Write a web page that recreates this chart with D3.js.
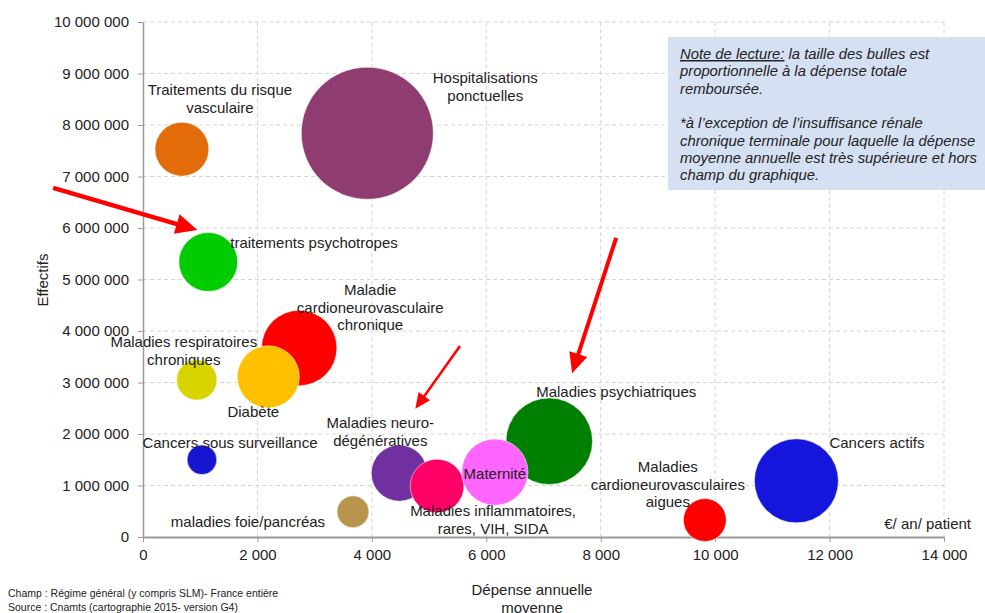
<!DOCTYPE html>
<html>
  <head>
    <meta charset="utf-8">
    <script src="https://d3js.org/d3.v7.min.js"></script>
    <style>
    body {
      margin: 0;
      background: #fff;
    }

    svg text {
      font-family: "Liberation Sans", Arial, sans-serif;
      fill: #222;
    }

    .grid line {
      stroke: #d6d6d6;
      stroke-dasharray: 4, 3;
    }

    .axis path, .axis line {
      stroke: #9a9a9a;
    }

    .axis text {
      font-size: 15px;
    }
  </style>
  </head>
  <body>
    <div id="chart"></div>
    <script>
    // bulles : pathologie, dépense annuelle moyenne (€/an/patient), effectifs
    var categories = [
      "Traitements du risque vasculaire",
      "Hospitalisations ponctuelles",
      "traitements psychotropes",
      "Maladie cardioneurovasculaire chronique",
      "Diabète",
      "Maladies respiratoires chroniques",
      "Cancers sous surveillance",
      "maladies foie/pancréas",
      "Maladies neuro-dégénératives",
      "Maladies inflammatoires, rares, VIH, SIDA",
      "Maladies psychiatriques",
      "Maternité",
      "Maladies cardioneurovasculaires aigues",
      "Cancers actifs"
    ];
    var depenseMoyenne = [680, 3920, 1140, 2730, 2190, 940, 1030, 3670, 4480, 5140, 7100, 6150, 9820, 11420];
    var effectifs = [7530000, 7840000, 5340000, 3670000, 3110000, 3050000, 1500000, 490000, 1240000, 990000, 1860000, 1260000, 330000, 1090000];
    var colors = ["#e36c0a", "#8f3d70", "#00cc00", "#ff0000", "#ffc000", "#d9d400", "#1616d0",
      "#b8954c", "#7030a0", "#ff0066", "#008000", "#ff66ff", "#ff0000", "#1515dc"];

    // texte des étiquettes (lignes)
    var labelLines = [
      ["Traitements du risque", "vasculaire"],
      ["Hospitalisations", "ponctuelles"],
      ["traitements psychotropes"],
      ["Maladie", "cardioneurovasculaire", "chronique"],
      ["Diabète"],
      ["Maladies respiratoires", "chroniques"],
      ["Cancers sous surveillance"],
      ["maladies foie/pancréas"],
      ["Maladies neuro-", "dégénératives"],
      ["Maladies inflammatoires,", "rares, VIH, SIDA"],
      ["Maladies psychiatriques"],
      ["Maternité"],
      ["Maladies", "cardioneurovasculaires", "aigues"],
      ["Cancers actifs"]
    ];
    // placement des étiquettes par rapport au centre de la bulle (px)
    var labelLayout = [
      {anchor: "middle", dx: 38, dy: -59},
      {anchor: "middle", dx: 118, dy: -55},
      {anchor: "start", dx: 22, dy: -19},
      {anchor: "middle", dx: 71, dy: -58},
      {anchor: "middle", dx: -15, dy: 35},
      {anchor: "middle", dx: -13, dy: -38},
      {anchor: "middle", dx: 28, dy: -17},
      {anchor: "middle", dx: -105, dy: 10},
      {anchor: "middle", dx: -19, dy: -50},
      {anchor: "middle", dx: 56, dy: 25},
      {anchor: "middle", dx: 67, dy: -49},
      {anchor: "middle", dx: 0, dy: 2},
      {anchor: "middle", dx: -37, dy: -53},
      {anchor: "start", dx: 33, dy: -38}
    ];

    var xTicks = [0, 2000, 4000, 6000, 8000, 10000, 12000, 14000];
    var yTicks = [0, 1000000, 2000000, 3000000, 4000000, 5000000, 6000000, 7000000, 8000000, 9000000, 10000000];

    // flèches rouges (coordonnées dans l'unité des axes)
    var arrowFrom = [[-1570, 6780000], [8270, 5810000], [5540, 3710000]];
    var arrowTo = [[950, 5960000], [7500, 3180000], [4760, 2490000]];
    var arrowWidth = [4.5, 4, 2.5];

    var noteLines = [
      "la taille des bulles est",
      "proportionnelle à la dépense totale",
      "remboursée.",
      "",
      "*à l’exception de l’insuffisance rénale",
      "chronique terminale pour laquelle la dépense",
      "moyenne annuelle est très supérieure et hors",
      "champ du graphique."
    ];

    var width = 985, height = 613;
    var margin = {top: 22, right: 41, bottom: 76, left: 143};

    var fr = d3.formatLocale({decimal: ",", thousands: " ", grouping: [3], currency: ["", " €"]});
    var fmt = fr.format(",d");

    var svg = d3.select("#chart").append("svg")
      .attr("width", width)
      .attr("height", height);

    var x = d3.scaleLinear().domain([0, 14000]).range([margin.left, width - margin.right]);
    var y = d3.scaleLinear().domain([0, 10000000]).range([height - margin.bottom, margin.top]);

    var data = categories.map(function (c, i) {
      return {name: c, x: depenseMoyenne[i], y: effectifs[i], color: colors[i], lines: labelLines[i], lay: labelLayout[i]};
    });
    // taille proportionnelle à la dépense totale
    var r = d3.scaleSqrt()
      .domain([0, d3.max(data, function (d) { return d.x * d.y; })])
      .range([0, 66]);

    // grille
    var grid = svg.append("g").attr("class", "grid");
    grid.selectAll(".gx").data(xTicks.slice(1)).enter().append("line")
      .attr("x1", function (d) { return x(d); })
      .attr("x2", function (d) { return x(d); })
      .attr("y1", y(0))
      .attr("y2", y(10000000));
    grid.selectAll(".gy").data(yTicks.slice(1)).enter().append("line")
      .attr("x1", x(0))
      .attr("x2", x(14000))
      .attr("y1", function (d) { return y(d); })
      .attr("y2", function (d) { return y(d); });

    // note de lecture
    var note = svg.append("g");
    note.append("rect")
      .attr("x", 668).attr("y", 37)
      .attr("width", 330).attr("height", 153)
      .attr("fill", "#d5e0f2");
    var noteText = note.append("text")
      .attr("font-size", 14.8)
      .attr("font-style", "italic");
    noteLines.forEach(function (l, i) {
      var t = noteText.append("tspan")
        .attr("x", 680)
        .attr("y", 59 + i * 17.3);
      if (i == 0) {
        t.append("tspan").attr("text-decoration", "underline").text("Note de lecture:");
        t.append("tspan").text(" " + l);
      } else {
        t.text(l);
      }
    });

    // axes
    var yAxis = svg.append("g")
      .attr("class", "axis")
      .attr("transform", "translate(" + x(0) + ",0)")
      .call(d3.axisLeft(y).tickValues(yTicks).tickFormat(fmt).tickSize(5).tickSizeOuter(0).tickPadding(9));
    yAxis.select(".domain").attr("stroke-width", 1.5);

    var xAxis = svg.append("g")
      .attr("class", "axis")
      .attr("transform", "translate(0," + y(0) + ")")
      .call(d3.axisBottom(x).tickValues(xTicks).tickFormat(fmt).tickSize(5).tickSizeOuter(0).tickPadding(7));
    xAxis.select(".domain").attr("stroke-width", 2);
    svg.selectAll(".axis text").attr("fill", "#222");

    // bulles
    svg.append("g").selectAll("circle")
      .data(data)
      .enter().append("circle")
      .attr("cx", function (d) { return x(d.x); })
      .attr("cy", function (d) { return y(d.y); })
      .attr("r", function (d) { return r(d.x * d.y); })
      .attr("fill", function (d) { return d.color; })
      .attr("stroke", "#fff")
      .attr("stroke-opacity", 0.5)
      .attr("stroke-width", 1);

    // étiquettes
    var labels = svg.append("g").selectAll("text")
      .data(data)
      .enter().append("text")
      .attr("font-size", 15)
      .attr("text-anchor", function (d) { return d.lay.anchor; });
    labels.each(function (d) {
      var t = d3.select(this);
      d.lines.forEach(function (l, i) {
        t.append("tspan")
          .attr("x", x(d.x) + d.lay.dx)
          .attr("y", y(d.y) + d.lay.dy + i * 17.5)
          .attr("dy", "0.35em")
          .text(l);
      });
    });

    // flèches
    var arrows = svg.append("g");
    arrowFrom.forEach(function (f, i) {
      var x1 = x(f[0]), y1 = y(f[1]), x2 = x(arrowTo[i][0]), y2 = y(arrowTo[i][1]);
      var w = arrowWidth[i];
      var len = Math.sqrt((x2 - x1) * (x2 - x1) + (y2 - y1) * (y2 - y1));
      var ux = (x2 - x1) / len, uy = (y2 - y1) / len;
      var hl = 8 + w * 3, hw = 3 + w * 1.6;
      var bx = x2 - ux * hl, by = y2 - uy * hl;
      arrows.append("line")
        .attr("x1", x1).attr("y1", y1)
        .attr("x2", bx + ux * 2).attr("y2", by + uy * 2)
        .attr("stroke", "#ff0000")
        .attr("stroke-width", w);
      arrows.append("polygon")
        .attr("points", [[x2, y2], [bx - uy * hw, by + ux * hw], [bx + uy * hw, by - ux * hw]].join(" "))
        .attr("fill", "#ff0000");
    });

    // titres
    svg.append("text")
      .attr("transform", "translate(48,280) rotate(-90)")
      .attr("text-anchor", "middle")
      .attr("font-size", 15)
      .text("Effectifs");

    svg.append("text")
      .attr("x", 532).attr("y", 595)
      .attr("text-anchor", "middle")
      .attr("font-size", 15)
      .text("Dépense annuelle");
    svg.append("text")
      .attr("x", 532).attr("y", 613)
      .attr("text-anchor", "middle")
      .attr("font-size", 15)
      .text("moyenne");

    svg.append("text")
      .attr("x", 971).attr("y", 529)
      .attr("text-anchor", "end")
      .attr("font-size", 15)
      .text("€/ an/ patient");

    svg.append("text")
      .attr("x", 8).attr("y", 597)
      .attr("font-size", 10.5)
      .attr("fill", "#333")
      .text("Champ : Régime général (y compris SLM)- France entière");
    svg.append("text")
      .attr("x", 8).attr("y", 611)
      .attr("font-size", 10.5)
      .attr("fill", "#333")
      .text("Source : Cnamts (cartographie 2015- version G4)");
  </script>
  </body>
</html>
